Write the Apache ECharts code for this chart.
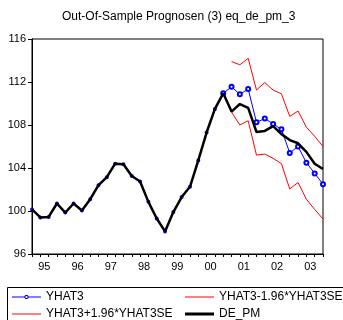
<!DOCTYPE html>
<html>
<head>
<meta charset="utf-8">
<script src="https://cdn.jsdelivr.net/npm/echarts@6/dist/echarts.min.js"></script>
<style>html,body{margin:0;padding:0;background:#fff;}#c{width:343px;height:320px;}</style>
</head>
<body>
<div id="c"></div>
<script>
// Quarterly categories 1995Q1 .. 2003Q4
const years = ['1995','1996','1997','1998','1999','2000','2001','2002','2003'];
const yearLabels = ['95','96','97','98','99','00','01','02','03'];
const categories = [];
years.forEach(y => { for (let q = 1; q <= 4; q++) categories.push(y + 'Q' + q); });

const yTicks = [96, 100, 104, 108, 112, 116];

// DE_PM actual values
const dePm = [100.15, 99.4, 99.45, 100.7, 99.85, 100.7, 100.05, 101.1,
  102.4, 103.15, 104.4, 104.35, 103.25, 102.75, 100.85, 99.3,
  98.1, 99.9, 101.3, 102.25, 104.7, 107.3, 109.5, 110.95,
  109.25, 109.95, 109.6, 107.35, 107.45, 107.9, 107.15, 106.6,
  106.3, 105.5, 104.4, 103.9];

// Forecast period starts at 2001Q1 (index 24)
const forecastStart = 24;
const yhat3Forecast = [111.55, 110.85, 111.35, 108.25, 108.6, 108.1, 107.6, 105.4, 106.0, 104.5, 103.5, 102.5];
const lowerBand = [109.2, 108.0, 108.4, 105.2, 105.3, 104.9, 104.4, 102.05, 102.65, 101.1, 100.15, 99.25];
const upperBand = [113.9, 113.6, 114.2, 111.25, 111.95, 111.25, 110.9, 108.8, 109.3, 107.8, 106.95, 106.0];

const yhat3 = dePm.slice(0, forecastStart).concat(yhat3Forecast);
const pad = new Array(forecastStart).fill(null);
const lower = pad.concat(lowerBand);
const upper = pad.concat(upperBand);

const font = 'Liberation Sans, Arial, sans-serif';
const chart = echarts.init(document.getElementById('c'), null, {renderer: 'canvas'});

// legend glyph: thin line with a small ring in the middle (29 x 4 box)
const lineRingIcon = 'path://M0,4.5L12.5,4.5L12.5,5.5L0,5.5Z M16.5,4.5L29,4.5L29,5.5L16.5,5.5Z ' +
  'M13.5,3L15.5,3L16.5,4L16.5,6L15.5,7L13.5,7L12.5,6L12.5,4Z ' +
  'M14,4L13.5,4.5L13.5,5.5L14,6L15,6L15.5,5.5L15.5,4.5L15,4Z';

function legendAt(name, left, top, icon, h, color) {
  return {
    data: [{name: name, icon: icon, itemStyle: {color: color, borderWidth: 0, borderColor: color}}],
    left: left, top: top, orient: 'horizontal', padding: 0,
    itemWidth: 29, itemHeight: h, selectedMode: false,
    itemStyle: {borderWidth: 0},
    textStyle: {fontFamily: font, fontSize: 12, color: '#000'}
  };
}

chart.setOption({
  animation: false,
  backgroundColor: '#fff',
  title: {
    text: 'Out-Of-Sample Prognosen (3) eq_de_pm_3',
    left: 62, top: 11, padding: 0,
    textStyle: {fontFamily: font, fontSize: 12, fontWeight: 'normal', color: '#000'}
  },
  grid: {left: 32, right: 20, top: 39, bottom: 66, show: true, borderColor: '#000', borderWidth: 1, backgroundColor: 'transparent'},
  xAxis: {
    type: 'category', data: categories, boundaryGap: false,
    axisLine: {lineStyle: {color: '#000', width: 1}},
    axisTick: {show: true, interval: 0, length: 3, inside: false, lineStyle: {color: '#000'}},
    axisLabel: {
      interval: (i) => i % 4 === 1,
      formatter: (v, i) => yearLabels[Math.floor(i / 4)],
      padding: [0, 0, 0, 8], margin: 7,
      fontFamily: font, fontSize: 11, color: '#000'
    },
    splitLine: {show: false}
  },
  yAxis: {
    type: 'value', min: yTicks[0], max: yTicks[yTicks.length - 1], interval: 4,
    axisLine: {show: true, lineStyle: {color: '#000'}},
    axisTick: {show: true, length: 4, lineStyle: {color: '#000'}},
    axisLabel: {fontFamily: font, fontSize: 11, color: '#000', margin: 6},
    splitLine: {show: false}
  },
  legend: [
    legendAt('YHAT3', 12, 291, lineRingIcon, 4, '#0000ff'),
    legendAt('YHAT3-1.96*YHAT3SE', 185, 291, 'rect', 1, '#ff0000'),
    legendAt('YHAT3+1.96*YHAT3SE', 12, 308, 'rect', 1, '#ff0000'),
    legendAt('DE_PM', 185, 308, 'rect', 3, '#000000')
  ],
  graphic: [{
    type: 'rect', shape: {x: 7.5, y: 287.5, width: 340, height: 40},
    style: {fill: 'none', stroke: '#000', lineWidth: 1}, silent: true, z: -1
  }],
  series: [
    {name: 'YHAT3', type: 'line', data: yhat3, symbol: 'emptyCircle',
     symbolSize: (v, p) => (p.dataIndex < forecastStart - 1 ? 2 : 4), showSymbol: true,
     itemStyle: {color: '#0000ff', borderColor: '#0000ff', borderWidth: 1},
     lineStyle: {color: '#0000ff', width: 1}, z: 2},
    {name: 'YHAT3-1.96*YHAT3SE', type: 'line', data: lower, symbol: 'none',
     itemStyle: {color: '#ff0000'}, lineStyle: {color: '#ff0000', width: 1}, z: 3},
    {name: 'YHAT3+1.96*YHAT3SE', type: 'line', data: upper, symbol: 'none',
     itemStyle: {color: '#ff0000'}, lineStyle: {color: '#ff0000', width: 1}, z: 3},
    {name: 'DE_PM', type: 'line', data: dePm, symbol: 'none',
     itemStyle: {color: '#000'}, lineStyle: {color: '#000', width: 2.5}, z: 4}
  ]
});
</script>
</body>
</html>
